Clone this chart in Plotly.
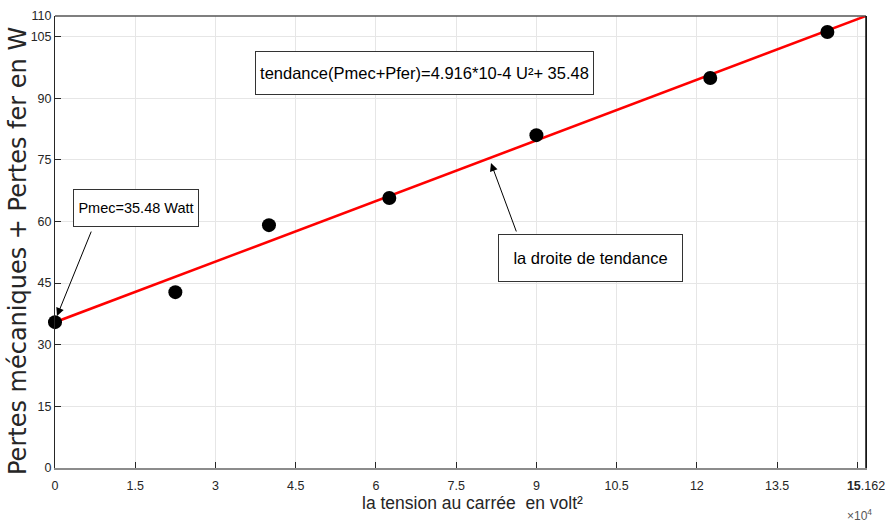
import plotly.graph_objects as go

# Data
u2 = [0, 22500, 40000, 62500, 90000, 122500, 144400]
pertes = [35.5, 42.8, 59.1, 65.7, 81.0, 94.9, 106.1]
slope = 4.916e-4
intercept = 35.48
x_max = 151620
line_x = [0, x_max]
line_y = [slope * v + intercept for v in line_x]

x_tickvals = [0, 15000, 30000, 45000, 60000, 75000, 90000, 105000, 120000, 135000, 150000, 151620]
x_ticktext = ["0", "1.5", "3", "4.5", "6", "7.5", "9", "10.5", "12", "13.5", "", "<b>15</b>.162"]
y_tickvals = [0, 15, 30, 45, 60, 75, 90, 105, 110]

SANS = "Liberation Sans, Arial, sans-serif"

L, R, T, B = 55, 19, 16, 57
W, H = 885, 525
PW, PH = W - L - R, H - T - B


def px_x(p):
    return (p - L) / PW


def px_y(p):
    return (H - B - p) / PH


fig = go.Figure()
fig.add_trace(go.Scatter(x=line_x, y=line_y, mode="lines",
                         line=dict(color="#ff0000", width=2.5), showlegend=False,
                         cliponaxis=False))
fig.add_trace(go.Scatter(x=u2, y=pertes, mode="markers",
                         marker=dict(color="black", size=14, symbol="circle"),
                         showlegend=False, cliponaxis=False))

fig.update_layout(
    width=W, height=H,
    margin=dict(l=L, r=R, t=T, b=B),
    plot_bgcolor="white", paper_bgcolor="white",
    font=dict(family=SANS, color="#262626", size=12),
)
fig.update_xaxes(range=[0, x_max], tickvals=x_tickvals, ticktext=x_ticktext,
                 tickangle=0, automargin=False, ticklabelstandoff=5,
                 ticklabeloverflow="allow",
                 tickfont=dict(size=12.5),
                 showgrid=True, gridcolor="#e6e6e6", gridwidth=1,
                 ticks="inside", ticklen=6, tickcolor="#262626",
                 showline=True, linecolor="#8c8c8c", linewidth=2, mirror=False,
                 zeroline=False)
fig.update_yaxes(range=[0, 110], tickvals=y_tickvals, automargin=False,
                 tickfont=dict(size=12.5),
                 showgrid=True, gridcolor="#e6e6e6", gridwidth=1,
                 ticks="inside", ticklen=6, tickcolor="#262626",
                 showline=True, linecolor="#262626", linewidth=1, mirror=True,
                 zeroline=False)

# axis titles
fig.add_annotation(xref="paper", yref="paper", x=px_x(472), y=px_y(503),
                   xanchor="center", yanchor="middle",
                   showarrow=False, text="la tension au carrée  en volt²",
                   font=dict(family=SANS, size=17.5, color="#262626"))
fig.add_annotation(xref="paper", yref="paper", x=px_x(18), y=px_y(251),
                   xanchor="center", yanchor="middle",
                   showarrow=False, textangle=-90,
                   text="Pertes mécaniques + Pertes fer en W",
                   font=dict(family="DejaVu Sans, sans-serif", size=24, color="#262626"))

# top/right frame
fig.add_shape(type="line", xref="paper", yref="paper", x0=0, x1=1, y0=1, y1=1,
              line=dict(color="#555555", width=1.5))
fig.add_shape(type="line", xref="paper", yref="paper", x0=1, x1=1, y0=0, y1=1,
              line=dict(color="#111111", width=1.5))

# annotations
fig.add_annotation(x=69043, y=96.1, xref="x", yref="y", showarrow=False,
                   text="tendance(Pmec+Pfer)=4.916*10-4 U²+ 35.48",
                   font=dict(family=SANS, size=16.5, color="black"),
                   bordercolor="#333333", borderwidth=1, bgcolor="white",
                   width=335, height=40)
fig.add_annotation(x=15074, y=63.3, xref="x", yref="y", showarrow=False,
                   text="Pmec=35.48 Watt",
                   font=dict(family=SANS, size=14.5, color="black"),
                   bordercolor="#333333", borderwidth=1, bgcolor="white",
                   width=122, height=34)
fig.add_annotation(x=100122, y=51.1, xref="x", yref="y", showarrow=False,
                   text="la droite de tendance",
                   font=dict(family=SANS, size=16.5, color="black"),
                   bordercolor="#333333", borderwidth=1, bgcolor="white",
                   width=181, height=44)
# arrows
fig.add_annotation(x=372, y=37.0, ax=6886, ay=57.9, xref="x", yref="y",
                   axref="x", ayref="y", text="", showarrow=True,
                   arrowhead=2, arrowsize=1.6, arrowwidth=1, arrowcolor="black")
fig.add_annotation(x=81510, y=74.2, ax=86350, ay=57.2, xref="x", yref="y",
                   axref="x", ayref="y", text="", showarrow=True,
                   arrowhead=2, arrowsize=1.6, arrowwidth=1, arrowcolor="black")
# exponent label
fig.add_annotation(xref="paper", yref="paper", x=px_x(859), y=px_y(515),
                   xanchor="center", yanchor="middle",
                   showarrow=False,
                   text="×10<sup>4</sup>", font=dict(family=SANS, size=12, color="#555555"))

fig.write_html("out.html")
